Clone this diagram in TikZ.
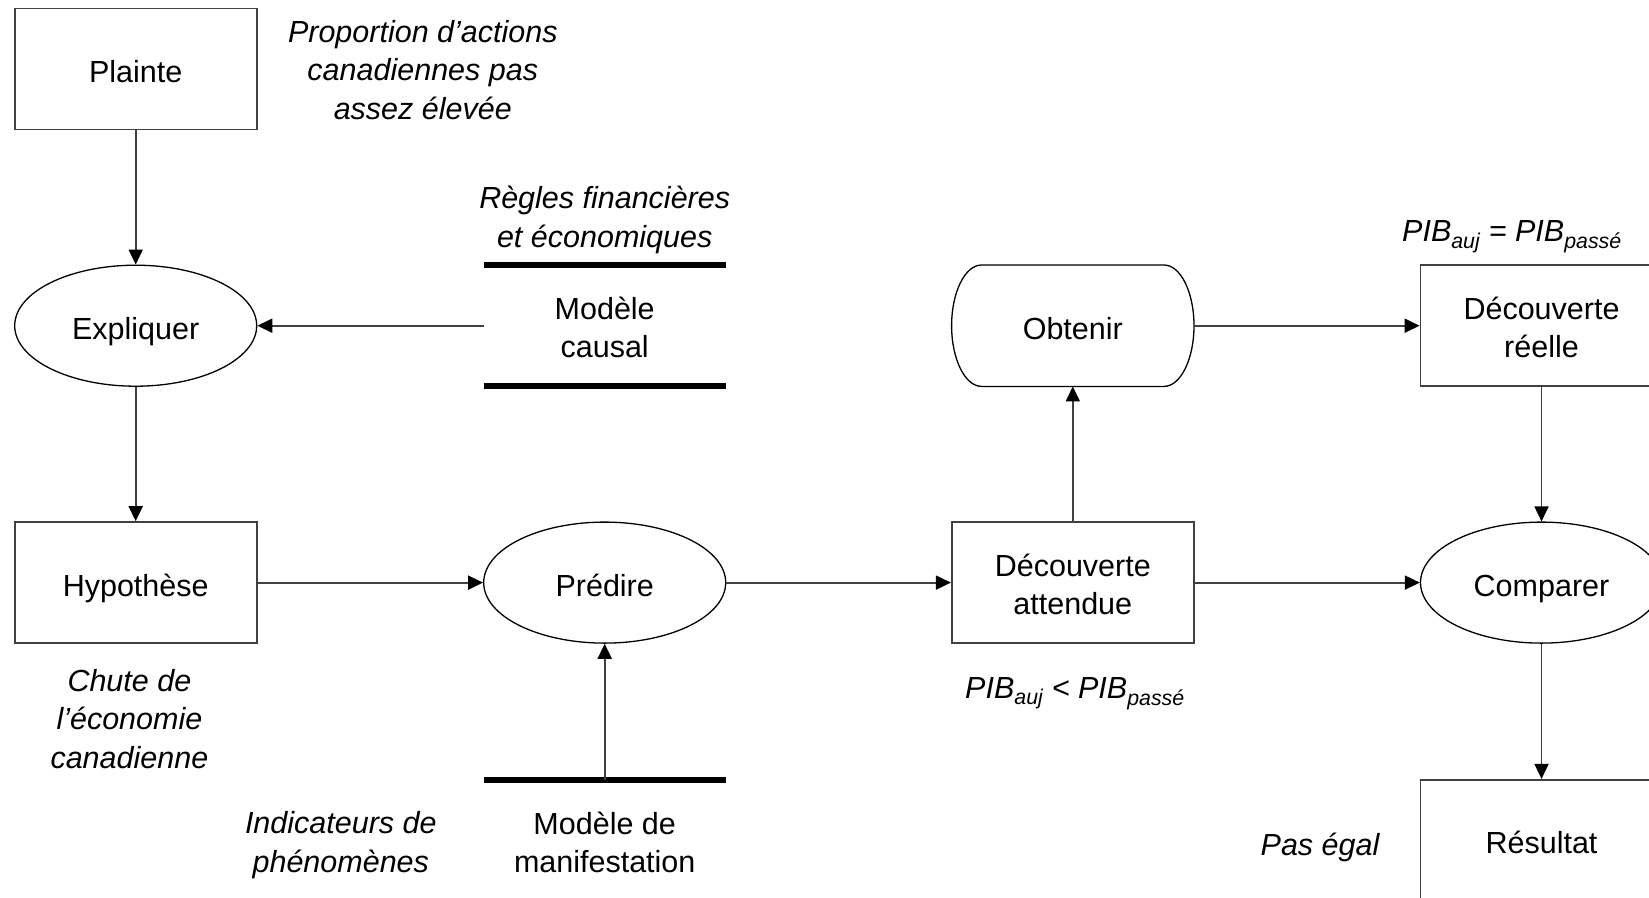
\documentclass[tikz,border=0pt]{standalone}
\usepackage{fontspec}
\setmainfont{Liberation Sans}
\usetikzlibrary{shapes.geometric,arrows.meta}
\definecolor{edgegray}{RGB}{64,64,64}
% struts fixing the first line's height and the last line's depth
\newcommand\topstrut{\rule{0pt}{\dimexpr0.905em+6pt\relax}}
\newcommand\botstrut{\rule[-0.212em]{0pt}{0.212em}}
\tikzset{
  every node/.style={font=\fontsize{30.5}{38}\selectfont, align=center, inner sep=0pt,
    execute at begin node=\topstrut, execute at end node=\botstrut},
  stepbox/.style={draw=edgegray, line width=1.8pt, rectangle, minimum width=242pt, minimum height=121pt},
  oval/.style={draw=black, line width=1.3pt, ellipse, minimum width=242pt, minimum height=121pt},
  slot/.style={rectangle, minimum width=242pt, minimum height=121pt},
  twoline/.style={yshift=-5pt},
  note/.style={font=\fontsize{30.5}{38.5}\selectfont\itshape},
  storeline/.style={line width=6pt, black},
  flow/.style={draw=edgegray, line width=1.8pt, -{Triangle[length=15pt,width=14pt,color=black]}}
}
\begin{document}
\begin{tikzpicture}[x=1pt,y=-1pt]
\useasboundingbox (0,0) rectangle (1649,897);
\clip (0,0) rectangle (1649,897);
\fill[white] (0,0) rectangle (1649,897);

% main shapes
\node[stepbox] (plainte) at (135.7,69) {Plainte};
\node[oval] (expl) at (135.7,325.7) {Expliquer};
\node[stepbox] (hyp) at (135.7,582.6) {Hypothèse};
\node[slot, label={[twoline]center:Modèle\\causal}] (causal) at (604.7,325.7) {};
\node[oval] (pred) at (604.7,582.6) {Prédire};
\node[slot] (manif) at (604.7,840.3) {};
\node (manift) at (604.7,845.5) {Modèle de\\manifestation};
\node[slot] (obt) at (1072.8,325.7) {Obtenir};
\node[stepbox, label={[twoline]center:Découverte\\attendue}] (datt) at (1072.8,582.6) {};
\node[stepbox, label={[twoline]center:Découverte\\réelle}] (dre) at (1541.5,325.7) {};
\node[oval] (comp) at (1541.5,582.6) {Comparer};
\node[stepbox] (res) at (1541.5,840.3) {Résultat};

% terminal outline with elliptic ends
\draw[black, line width=1.3pt]
  ([xshift=30pt]obt.north west) -- ([xshift=-30pt]obt.north east)
  .. controls ([xshift=-13.4pt]obt.north east) and ([yshift=33.4pt]obt.east) .. (obt.east)
  .. controls ([yshift=-33.4pt]obt.east) and ([xshift=-13.4pt]obt.south east) .. ([xshift=-30pt]obt.south east)
  -- ([xshift=30pt]obt.south west)
  .. controls ([xshift=13.4pt]obt.south west) and ([yshift=-33.4pt]obt.west) .. (obt.west)
  .. controls ([yshift=33.4pt]obt.west) and ([xshift=13.4pt]obt.north west) .. ([xshift=30pt]obt.north west)
  -- cycle;

% data store bars
\draw[storeline] (causal.north west) -- (causal.north east);
\draw[storeline] (causal.south west) -- (causal.south east);
\draw[storeline] (manif.north west) -- (manif.north east);

% annotations
\node[note] (prop) at (422.8,73) {Proportion d’actions\\canadiennes pas\\assez élevée};
\node[note] (regles) at (604.7,220) {Règles financières\\et économiques};
\node[note] (chute) at (129.4,722) {Chute de\\l’économie\\canadienne};
\node[note] (indic) at (340.8,845) {Indicateurs de\\phénomènes};
\node[note] (pasegal) at (1320,841.5) {Pas égal};
\node[note] (ineg) at (1075,687) {PIB\textsubscript{auj} < PIB\textsubscript{passé}};
\node[note, anchor=west] (egal) at (1402,230.5) {PIB\textsubscript{auj} = PIB\textsubscript{passé}};

% connectors
\draw[flow] (plainte) -- (expl);
\draw[flow] (causal.west) -- (expl.east);
\draw[flow] (expl) -- (hyp);
\draw[flow] (hyp) -- (pred);
\draw[flow] (manif.north) -- (pred.south);
\draw[flow] (pred) -- (datt);
\draw[flow] (datt.north) -- (obt.south);
\draw[flow] (obt.east) -- (dre.west);
\draw[flow] (datt) -- (comp);
\draw[flow] (dre) -- (comp);
\draw[flow] (comp) -- (res);
\end{tikzpicture}
\end{document}
